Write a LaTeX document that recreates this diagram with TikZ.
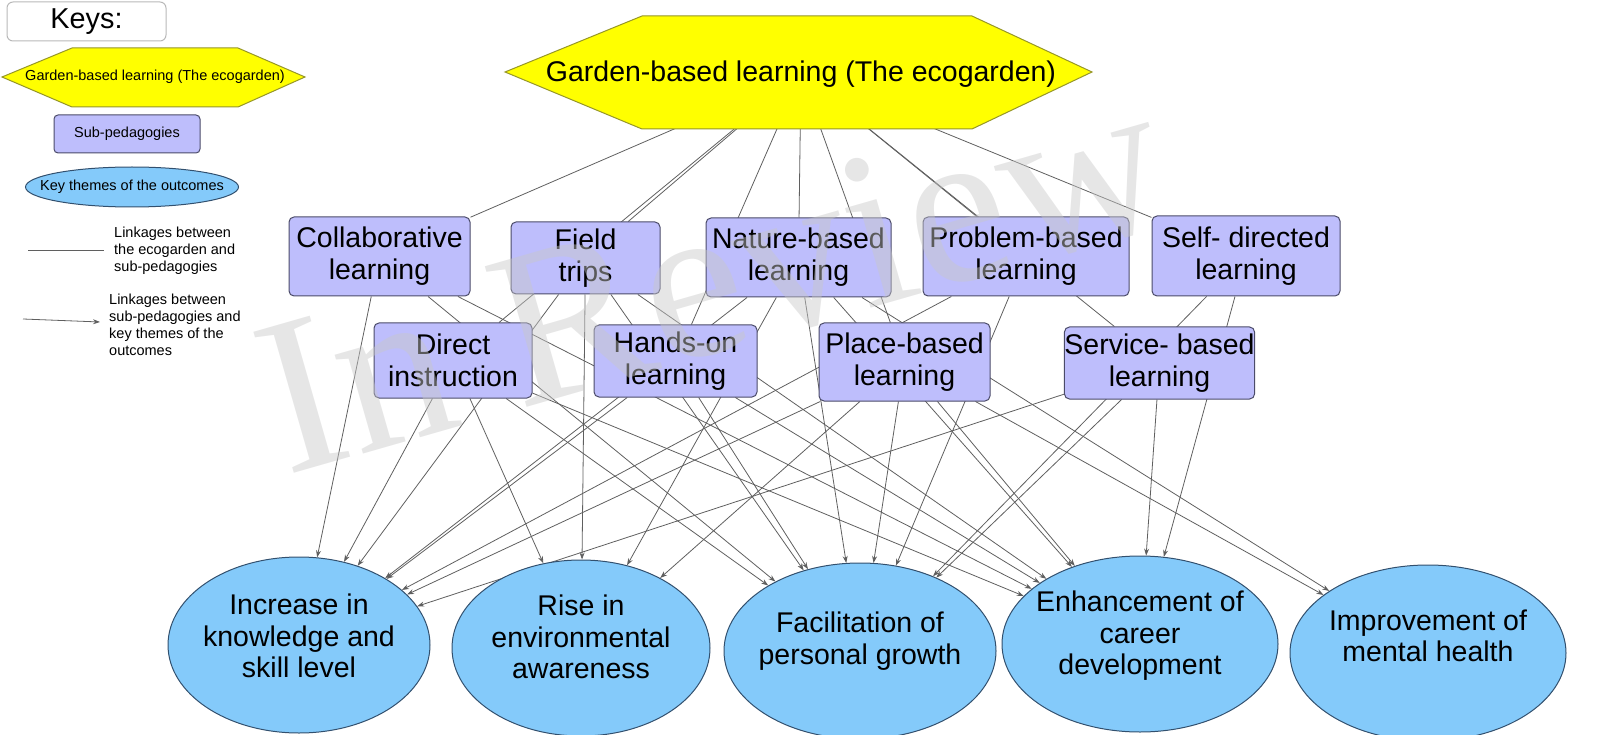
\documentclass[tikz,border=0pt]{standalone}
\usepackage{fontspec}
\setmainfont{Liberation Sans}
\newfontfamily\stampfont{Liberation Serif}
\usetikzlibrary{shapes.geometric, backgrounds, arrows.meta}

\definecolor{gardenfill}{RGB}{255,255,0}
\definecolor{gardenline}{RGB}{150,150,40}
\definecolor{pedfill}{RGB}{190,190,252}
\definecolor{pedline}{RGB}{75,75,105}
\definecolor{themefill}{RGB}{132,202,250}
\definecolor{themeline}{RGB}{50,80,110}
\definecolor{linkgray}{RGB}{95,95,95}
\definecolor{keyline}{RGB}{185,185,185}
\definecolor{stampgray}{RGB}{200,200,200}

\tikzset{
  gardenshape/.style={draw=gardenline, fill=gardenfill, line width=1pt},
  pedagogy/.style={rectangle, draw=pedline, fill=pedfill, rounded corners=5pt, line width=1pt, align=center, inner sep=0pt, font=\fontsize{28.5}{32}\selectfont},
  theme/.style={ellipse, draw=themeline, fill=themefill, line width=1pt, inner sep=0pt},
  themetext/.style={align=center, inner sep=0pt, font=\fontsize{28.5}{31.5}\selectfont},
  keytext/.style={align=left, inner sep=0pt, font=\fontsize{14.5}{17}\selectfont},
  gardenlink/.style={draw=linkgray, line width=0.8pt},
  themelink/.style={gardenlink, -{Stealth[length=7pt,width=5pt]}},
}

\begin{document}
\begin{tikzpicture}[x=1pt,y=-1pt]
\useasboundingbox (0,0) rectangle (1612,735);

% keys
\node[draw=keyline, rounded corners=6pt, line width=1pt, minimum width=159, minimum height=39, inner sep=0pt, font=\fontsize{28.8}{30}\selectfont] (keys) at (86.5,21.5) {Keys:};
\filldraw[gardenshape] (2,77) -- (72,48) -- (238,48) -- (305,77) -- (238,107) -- (72,107) -- cycle;
\node[keytext] (keygarden) at (155,77) {Garden-based learning (The ecogarden)};
\node[pedagogy, minimum width=146, minimum height=38, rounded corners=4pt, font=\fontsize{14.5}{17}\selectfont] (keyped) at (127,134) {Sub-pedagogies};
\node[theme, minimum width=213, minimum height=40] (keytheme) at (132,187) {};
\node[keytext] (keythemetext) at (132,187) {Key themes of the outcomes};
\coordinate (keyla) at (28,250);
\coordinate (keylb) at (104,250);
\draw[gardenlink] (keyla) -- (keylb);
\node[keytext, anchor=west] (keylinka) at (114,251) {Linkages between\\the ecogarden and\\sub-pedagogies};
\coordinate (keyta) at (23,319);
\coordinate (keytb) at (100,322);
\draw[themelink] (keyta) -- (keytb);
\node[keytext, anchor=west] (keylinkb) at (109,325) {Linkages between\\sub-pedagogies and\\key themes of the\\outcomes};

% ecogarden
\filldraw[gardenshape] (505,72) -- (642,16) -- (972,16) -- (1092,72) -- (972,129) -- (642,129) -- cycle;
\node[inner sep=0pt, font=\fontsize{28.5}{32}\selectfont] (garden) at (801,74) {Garden-based learning (The ecogarden)};

% sub-pedagogies
\node[pedagogy, minimum width=181, minimum height=79] (collab) at (379.5,256.5) {Collaborative\\learning};
\node[pedagogy, minimum width=149, minimum height=72] (field) at (585.5,258) {Field\\trips};
\node[pedagogy, minimum width=185, minimum height=79] (nature) at (798.5,257.5) {Nature-based\\learning};
\node[pedagogy, minimum width=206, minimum height=79] (problem) at (1026,256.5) {Problem-based\\learning};
\node[pedagogy, minimum width=188, minimum height=80] (selfdir) at (1246,256) {Self- directed\\learning};
\node[pedagogy, minimum width=158, minimum height=75] (direct) at (453,360.5) {Direct\\instruction};
\node[pedagogy, minimum width=163, minimum height=72] (handson) at (675.5,361) {Hands-on\\learning};
\node[pedagogy, minimum width=171, minimum height=78] (place) at (904.5,362) {Place-based\\learning};
\node[pedagogy, minimum width=177, minimum height=72] (service) at (1159.5,363) {Service- based\\learning};

% key themes
\node[theme, minimum width=262, minimum height=176] (knowledge) at (299,645) {};
\node[themetext] (knowledgetext) at (299,636) {Increase in\\knowledge and\\skill level};
\node[theme, minimum width=258, minimum height=176] (awareness) at (581,648) {};
\node[themetext] (awarenesstext) at (581,637) {Rise in\\environmental\\awareness};
\node[theme, minimum width=272, minimum height=176] (growth) at (860,651) {};
\node[themetext] (growthtext) at (860,641) {Facilitation of\\personal growth};
\node[theme, minimum width=276, minimum height=176] (career) at (1140,644) {};
\node[themetext] (careertext) at (1140,636) {Enhancement of\\career\\development};
\node[theme, minimum width=276, minimum height=176] (health) at (1428,653) {};
\node[themetext] (healthtext) at (1428,636) {Improvement of\\mental health};

\begin{scope}[on background layer]
\foreach \p in {collab,field,direct,handson,nature,place,problem,service,selfdir}
  \draw[gardenlink] (garden) -- (\p);
\foreach \p/\t in {collab/knowledge, collab/growth, collab/career,
    field/knowledge, field/awareness, field/growth, field/career,
    direct/knowledge, direct/awareness, direct/growth, direct/career,
    handson/knowledge, handson/growth, handson/career,
    nature/knowledge, nature/awareness, nature/growth, nature/career, nature/health,
    place/knowledge, place/awareness, place/growth, place/career, place/health,
    problem/knowledge, problem/growth,
    selfdir/growth, selfdir/career,
    service/knowledge, service/growth, service/career}
  \draw[themelink] (\p) -- (\t);
\end{scope}

\node[rotate=16, text=stampgray, text opacity=0.45, inner sep=0pt, font=\stampfont\fontsize{224}{224}\selectfont] (stamp) at (712,278) {In Review};

\end{tikzpicture}
\end{document}
